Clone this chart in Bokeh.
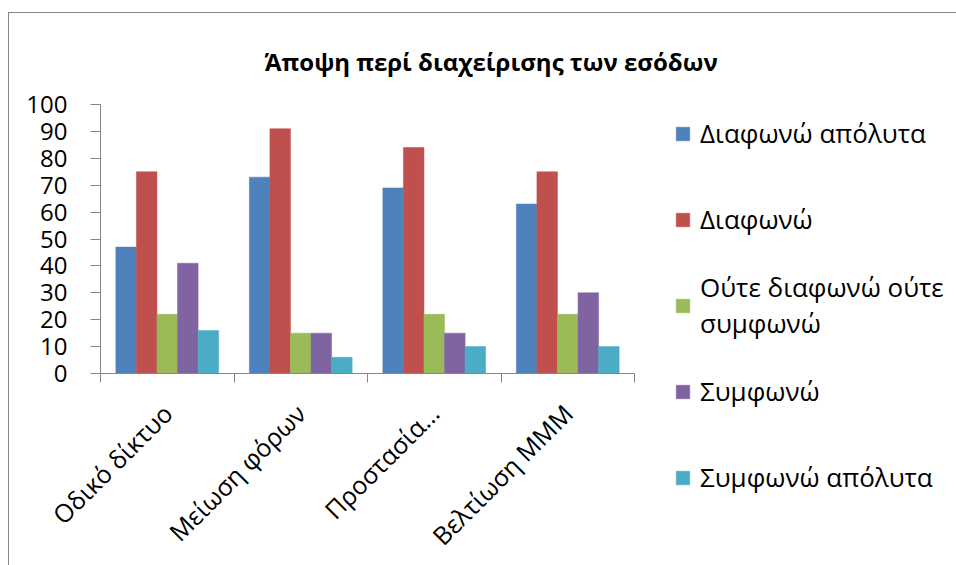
import math
from bokeh.plotting import figure
from bokeh.models import ColumnDataSource, Range1d, FixedTicker, Legend, LegendItem
from bokeh.transform import dodge
from bokeh.embed import file_html
from bokeh.resources import INLINE

# Categories (x axis)
categories = ["Οδικό δίκτυο", "Μείωση φόρων", "Προστασία…", "Βελτίωση ΜΜΜ"]

# Series values
diafono_apolyta = [47, 73, 69, 63]
diafono = [75, 91, 84, 75]
oute_oute = [22, 15, 22, 22]
symfono = [41, 15, 15, 30]
symfono_apolyta = [16, 6, 10, 10]

series_names = ["Διαφωνώ απόλυτα", "Διαφωνώ", "Ούτε διαφωνώ ούτε\nσυμφωνώ",
                "Συμφωνώ", "Συμφωνώ απόλυτα"]
series_values = [diafono_apolyta, diafono, oute_oute, symfono, symfono_apolyta]
colors = ["#4F81BD", "#C0504D", "#9BBB59", "#8064A2", "#4BACC6"]

y_ticks = list(range(0, 101, 10))
title_text = "Άποψη περί διαχείρισης των εσόδων"

FONT = "Open Sans"
AXIS_GRAY = "#868686"

centers = [i + 0.5 for i in range(len(categories))]
data = {"x": centers}
for k, vals in enumerate(series_values):
    data[f"s{k}"] = vals
source = ColumnDataSource(data)

# fixed plot area; borders hold the axes, title and legend
p = figure(frame_width=534, frame_height=269,
           x_range=Range1d(0, len(categories)), y_range=Range1d(0, 100),
           output_backend="svg", toolbar_location=None, tools="",
           min_border_left=91, min_border_right=322, min_border_top=91, min_border_bottom=192)
p.margin = (12, 0, 0, 8)
p.styles = {"border-top": "1.5px solid #888888", "border-left": "1.5px solid #888888"}
p.outline_line_color = None
p.grid.visible = False
p.background_fill_color = "white"
p.border_fill_color = "white"

# chart title
p.title.text = title_text
p.title.align = "left"
p.title.offset = 164
p.title.standoff = 54
p.title.text_font = FONT
p.title.text_font_style = "bold"
p.title.text_font_size = "24px"
p.title.text_color = "black"

bar_w = 0.154
items = []
for k, name in enumerate(series_names):
    r = p.vbar(x=dodge("x", (k - 2) * bar_w, range=p.x_range), top=f"s{k}", width=bar_w,
               source=source, fill_color=colors[k], line_color=colors[k], line_width=0.5)
    items.append(LegendItem(label=name, renderers=[r]))

# y axis
yax = p.yaxis[0]
yax.ticker = FixedTicker(ticks=y_ticks)
yax.axis_line_color = AXIS_GRAY
yax.major_tick_line_color = AXIS_GRAY
yax.major_tick_out = 10
yax.major_tick_in = 0
yax.minor_tick_line_color = None
yax.major_label_text_font = FONT
yax.major_label_text_font_size = "24px"
yax.major_label_text_color = "black"
yax.major_label_standoff = 23

# x axis: ticks at category boundaries, labels at category centers
xax = p.xaxis[0]
xax.ticker = FixedTicker(ticks=centers, minor_ticks=list(range(len(categories) + 1)))
xax.major_label_overrides = {c: lab for c, lab in zip(centers, categories)}
xax.axis_line_color = AXIS_GRAY
xax.major_tick_line_color = None
xax.major_tick_out = 0
xax.major_tick_in = 0
xax.minor_tick_line_color = AXIS_GRAY
xax.minor_tick_out = 9
xax.minor_tick_in = 0
xax.major_label_orientation = math.pi / 4
xax.major_label_text_font = FONT
xax.major_label_text_font_size = "25px"
xax.major_label_text_color = "black"
xax.major_label_standoff = 26

legend = Legend(items=items, location=(40, -142), padding=0, margin=0, spacing=10,
                glyph_width=17, glyph_height=17, label_height=76, label_standoff=9,
                label_text_font=FONT, label_text_font_size="26px", label_text_color="black",
                label_text_line_height=1.46,
                border_line_color=None, background_fill_alpha=0)
p.add_layout(legend, "right")

open("out.html", "w").write(file_html(p, INLINE))
